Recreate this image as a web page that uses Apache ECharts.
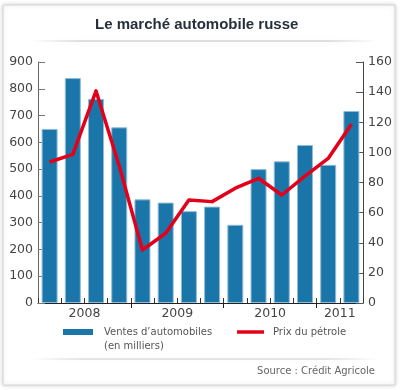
<!DOCTYPE html>
<html>
<head>
<meta charset="utf-8">
<script src="https://cdn.jsdelivr.net/npm/echarts@6/dist/echarts.min.js"></script>
<style>
html,body{margin:0;padding:0;background:#fff;}
#c{width:400px;height:390px;}
</style>
</head>
<body>
<div id="c"></div>
<script>
// Quarterly categories (year + quarter)
const quarters = ['2008 T1','2008 T2','2008 T3','2008 T4',
                  '2009 T1','2009 T2','2009 T3','2009 T4',
                  '2010 T1','2010 T2','2010 T3','2010 T4',
                  '2011 T1','2011 T2'];
// Car sales (thousands)
const ventes = [650, 840, 762, 656, 387, 375, 343, 360, 292, 500, 529, 590, 516, 717];
// Oil price
const petrole = [93.6, 98.7, 140.8, 91, 35.2, 46.3, 68.4, 67.3, 76.2, 82.8, 71.7, 84.3, 96, 118.7];
// Axis ranges / tick labels
const leftTicks = [0,100,200,300,400,500,600,700,800,900];
const rightTicks = [0,20,40,60,80,100,120,140,160];

const serieVentes = 'Ventes d\u2019automobiles';
const serieVentesSub = '(en milliers)';
const seriePetrole = 'Prix du pétrole';

// Derive year groups from the quarter categories
const years = [];
const yearCounts = {};
quarters.forEach(q => {
  const y = q.split(' ')[0];
  if (!(y in yearCounts)) { years.push(y); yearCounts[y] = 0; }
  yearCounts[y]++;
});
const yearBounds = [];
const yearMids = [];
let acc = 0;
years.forEach((y, i) => {
  yearMids.push(acc + yearCounts[y] / 2);
  acc += yearCounts[y];
  if (i < years.length - 1) yearBounds.push(acc);
});

const chart = echarts.init(document.getElementById('c'), null, {renderer: 'canvas'});
const FONT = 'DejaVu Sans';

chart.setOption({
  backgroundColor: '#ffffff',
  animation: false,
  graphic: [
    { type: 'rect', z: -10, shape: {x: 3, y: 5, width: 392, height: 380},
      style: {fill: '#fff', stroke: '#d6d6d6', lineWidth: 1, shadowBlur: 4, shadowColor: 'rgba(0,0,0,0.18)'} },
    { type: 'rect', z: -5, shape: {x: 30, y: 40, width: 350, height: 2},
      style: {fill: new echarts.graphic.LinearGradient(0,0,1,0,[
        {offset:0,color:'rgba(0,0,0,0)'},{offset:0.15,color:'rgba(0,0,0,0.12)'},
        {offset:0.85,color:'rgba(0,0,0,0.12)'},{offset:1,color:'rgba(0,0,0,0)'}]),
        shadowBlur: 5, shadowColor: 'rgba(0,0,0,0.25)'} },
    { type: 'rect', z: -5, shape: {x: 30, y: 358, width: 350, height: 2},
      style: {fill: new echarts.graphic.LinearGradient(0,0,1,0,[
        {offset:0,color:'rgba(0,0,0,0)'},{offset:0.15,color:'rgba(0,0,0,0.10)'},
        {offset:0.85,color:'rgba(0,0,0,0.10)'},{offset:1,color:'rgba(0,0,0,0)'}]),
        shadowBlur: 5, shadowColor: 'rgba(0,0,0,0.2)'} },
    { type: 'text', left: 104, top: 341,
      style: {text: serieVentesSub, fontFamily: FONT, fontSize: 10, fill: '#555'} },
    { type: 'text', right: 25, top: 366,
      style: {text: 'Source : Crédit Agricole', fontFamily: FONT, fontSize: 10, fill: '#666'} }
  ],
  title: {
    text: 'Le marché automobile russe',
    left: 90, top: 12,
    textStyle: {fontFamily: 'Liberation Sans', fontSize: 15, fontWeight: 'bold', color: '#26303b'}
  },
  legend: [
    { data: [{name: serieVentes, icon: 'rect'}], left: 63, top: 327, padding: 0,
      itemWidth: 30, itemHeight: 6,
      itemStyle: {color: '#1a76a9', borderWidth: 0},
      textStyle: {fontFamily: FONT, fontSize: 10, color: '#555', padding: [0,0,0,6]} },
    { data: [{name: seriePetrole, icon: 'rect'}], left: 237, top: 327, padding: 0,
      itemWidth: 27, itemHeight: 3.5,
      itemStyle: {color: '#e2001a', borderWidth: 0},
      textStyle: {fontFamily: FONT, fontSize: 10, color: '#555', padding: [0,0,0,4]} }
  ],
  grid: {left: 38, right: 37, top: 62, bottom: 87, containLabel: false},
  xAxis: [
    { type: 'category', data: quarters, boundaryGap: true,
      axisLine: {show: true, lineStyle: {color: '#222', width: 1}},
      axisTick: {show: true, inside: true, interval: 0, length: 5, lineStyle: {color: '#333'}},
      axisLabel: {show: false}, splitLine: {show: false} },
    { type: 'value', min: 0, max: quarters.length, position: 'bottom',
      axisLine: {show: false},
      axisTick: {show: true, inside: false, length: 5, customValues: yearBounds, lineStyle: {color: '#222'}},
      axisLabel: {show: true, customValues: yearMids, margin: 4,
        fontFamily: FONT, fontSize: 12.5, color: '#444',
        formatter: v => { const i = yearMids.findIndex(m => Math.abs(m - v) < 1e-6); return i >= 0 ? years[i] : ''; }},
      splitLine: {show: false} }
  ],
  yAxis: [
    { type: 'value', min: leftTicks[0], max: leftTicks[leftTicks.length-1], interval: leftTicks[1]-leftTicks[0],
      axisLine: {show: true, lineStyle: {color: '#666'}},
      axisTick: {show: true, inside: true, length: 7, lineStyle: {color: '#777'}},
      axisLabel: {margin: 5, fontFamily: FONT, fontSize: 12.5, color: '#444'},
      splitLine: {show: false} },
    { type: 'value', min: rightTicks[0], max: rightTicks[rightTicks.length-1], interval: rightTicks[1]-rightTicks[0],
      position: 'right',
      axisLine: {show: true, lineStyle: {color: '#444'}},
      axisTick: {show: true, inside: true, length: 7, lineStyle: {color: '#555'}},
      axisLabel: {margin: 5, fontFamily: FONT, fontSize: 12.5, color: '#444'},
      splitLine: {show: false} }
  ],
  series: [
    { name: serieVentes, type: 'bar', xAxisIndex: 0, yAxisIndex: 0, data: ventes,
      barWidth: 16,
      itemStyle: {color: '#1a76a9', borderColor: '#8fbcd8', borderWidth: 1} },
    { name: seriePetrole, type: 'line', xAxisIndex: 0, yAxisIndex: 1, data: petrole,
      symbol: 'none', z: 5,
      lineStyle: {color: '#e2001a', width: 3.5, join: 'round'},
      itemStyle: {color: '#e2001a'} }
  ]
});
</script>
</body>
</html>
